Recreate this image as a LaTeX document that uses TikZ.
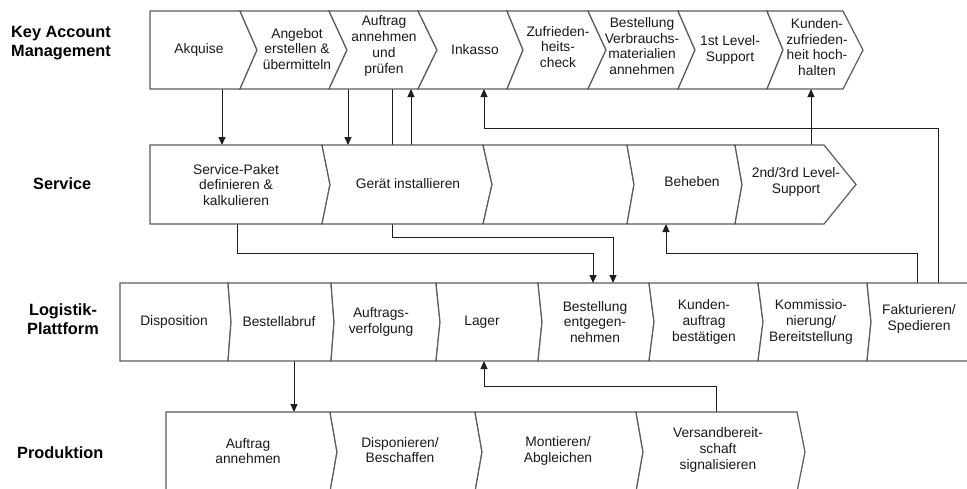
\documentclass[tikz,border=0pt]{standalone}
\usepackage{fontspec}
\setmainfont{Liberation Sans}
\usetikzlibrary{arrows.meta}

\definecolor{outline}{HTML}{5C5C5C}
\definecolor{linec}{HTML}{1E1E1E}
\definecolor{textc}{HTML}{1A1A1A}

% one chevron segment: left top x, left notch x, right top x, right tip x, top y, middle y, bottom y
\newcommand\chev[7]{%
  \path[segbox] (#1,#5) -- (#3,#5) -- (#4,#6) -- (#3,#7) -- (#1,#7) -- (#2,#6) -- cycle;}

\tikzset{
  segbox/.style={draw=outline, fill=white, line width=1.2pt, line join=miter},
  txt/.style={align=center, font=\fontsize{13.8}{15.8}\selectfont, text=textc, inner sep=0pt},
  lane/.style={align=left, anchor=west, font=\fontsize{16.3}{19.5}\selectfont\bfseries, text=black, inner sep=0pt},
  flow/.style={draw=linec, line width=1pt},
  arr/.style={flow, -{Triangle[length=8pt,width=7pt]}}
}

\begin{document}
\begin{tikzpicture}[x=1pt,y=-1pt]
\useasboundingbox (0,0) rectangle (967,488);
\clip (0,0) rectangle (967,488);
\fill[white] (0,0) rectangle (967,488);

% ---- connector end points ----
\coordinate (akqB)  at (222,89);   \coordinate (pakT)  at (222,145);
\coordinate (angB)  at (348,89);   \coordinate (gerT)  at (348,145);
\coordinate (aufB1) at (392,89);   \coordinate (bestT1) at (613,283);
\coordinate (gerT2) at (411,145);  \coordinate (aufB2) at (411,89);
\coordinate (pakB)  at (237,224);  \coordinate (bestT2) at (593,283);
\coordinate (fakT1) at (938,283);  \coordinate (inkB)  at (484,89);
\coordinate (supT)  at (811,145);  \coordinate (kzfB)  at (811,89);
\coordinate (fakT2) at (917,283);  \coordinate (behB)  at (666,224);
\coordinate (abrB)  at (294,361);  \coordinate (pauT)  at (294,412);
\coordinate (verT)  at (716,412);  \coordinate (lagB)  at (484,361);

% ---- connectors (drawn first, boxes cover hidden parts) ----
\draw[arr] (akqB) -- (pakT);
\draw[arr] (angB) -- (gerT);
\draw[arr] (aufB1) |- (613,237) -- (bestT1);
\draw[arr] (gerT2) -- (aufB2);
\draw[arr] (pakB) |- (593,253) -- (bestT2);
\draw[arr] (fakT1) |- (484,128) -- (inkB);
\draw[arr] (supT) -- (kzfB);
\draw[arr] (fakT2) |- (666,253) -- (behB);
\draw[arr] (abrB) -- (pauT);
\draw[arr] (verT) |- (484,386) -- (lagB);

% ---- Key Account Management ----
\chev{150}{150}{240}{257}{11}{50}{89}
\chev{240}{257}{329}{347}{11}{50}{89}
\chev{329}{347}{418}{437}{11}{50}{89}
\chev{418}{437}{507}{523}{11}{50}{89}
\chev{507}{523}{588}{606}{11}{50}{89}
\chev{588}{606}{678}{695}{11}{50}{89}
\chev{678}{695}{767}{783}{11}{50}{89}
\chev{767}{783}{843}{863}{11}{50}{89}

% ---- Service ----
\chev{150}{150}{322}{330}{145}{184.5}{224}
\chev{322}{330}{483}{492}{145}{184.5}{224}
\chev{483}{492}{627}{634}{145}{184.5}{224}
\chev{627}{634}{735}{742}{145}{184.5}{224}
\chev{735}{742}{824}{856}{145}{184.5}{224}

% ---- Logistik-Plattform ----
\chev{120}{120}{228}{231}{283}{322}{361}
\chev{228}{231}{331}{334}{283}{322}{361}
\chev{331}{334}{436}{440}{283}{322}{361}
\chev{436}{440}{538}{542}{283}{322}{361}
\chev{538}{542}{649}{654}{283}{322}{361}
\chev{649}{654}{758}{763}{283}{322}{361}
\chev{758}{763}{867}{871}{283}{322}{361}
\chev{867}{871}{990}{990}{283}{322}{361}

% ---- Produktion ----
\chev{166}{166}{330}{337}{412}{452}{492}
\chev{330}{337}{475}{482}{412}{452}{492}
\chev{475}{482}{636}{643}{412}{452}{492}
\chev{636}{643}{797}{805}{412}{452}{492}

% ---- lane titles ----
\node[lane] (lkam) at (11,43)  {Key Account\\Management};
\node[lane] (lser) at (33,184) {Service};
\node[lane, align=center, anchor=center] (llog) at (63,319) {Logistik-\\Plattform};
\node[lane] (lpro) at (17,453) {Produktion};

% ---- step texts ----
\node[txt] (k1) at (199,50) {Akquise};
\node[txt] (k2) at (297,49) {Angebot\\erstellen \&\\übermitteln};
\node[txt] (k3) at (384,46) {Auftrag\\annehmen\\und\\prüfen};
\node[txt] (k4) at (475,50) {Inkasso};
\node[txt] (k5) at (558,47) {Zufrieden-\\heits-\\check};
\node[txt] (k6) at (642,46) {Bestellung\\Verbrauchs-\\materialien\\annehmen};
\node[txt] (k7) at (730,50) {1st Level-\\Support};
\node[txt] (k8) at (817,47) {Kunden-\\zufrieden-\\heit hoch-\\halten};

\node[txt] (s1) at (236,185) {Service-Paket\\definieren \&\\kalkulieren};
\node[txt] (s2) at (408,184) {Gerät installieren};
\node[txt] (s4) at (692,182) {Beheben};
\node[txt] (s5) at (796,182) {2nd/3rd Level-\\Support};

\node[txt] (l1) at (174,322) {Disposition};
\node[txt] (l2) at (279,322) {Bestellabruf};
\node[txt] (l3) at (381,322) {Auftrags-\\verfolgung};
\node[txt] (l4) at (482,322) {Lager};
\node[txt] (l5) at (595,322) {Bestellung\\entgegen-\\nehmen};
\node[txt] (l6) at (704,322) {Kunden-\\auftrag\\bestätigen};
\node[txt] (l7) at (811,322) {Kommissio-\\nierung/\\Bereitstellung};
\node[txt] (l8) at (919,319) {Fakturieren/\\Spedieren};

\node[txt] (p1) at (248,451) {Auftrag\\annehmen};
\node[txt] (p2) at (400,450) {Disponieren/\\Beschaffen};
\node[txt] (p3) at (558,451) {Montieren/\\Abgleichen};
\node[txt] (p4) at (718,450) {Versandbereit-\\schaft\\signalisieren};
\end{tikzpicture}
\end{document}
